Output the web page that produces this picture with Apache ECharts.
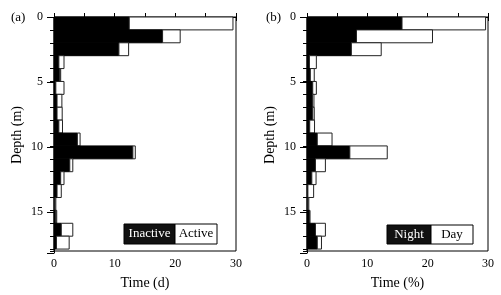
<!DOCTYPE html>
<html>
<head>
<meta charset="utf-8">
<script src="https://cdn.jsdelivr.net/npm/echarts@6/dist/echarts.min.js"></script>
<style>
  html, body { margin: 0; padding: 0; background: #fff; }
  #chart { width: 501px; height: 295px; }
</style>
</head>
<body>
<div id="chart"></div>
<script>
// depth bins (top of each 1 m bin)
const depths = [0, 1, 2, 3, 4, 5, 6, 7, 8, 9, 10, 11, 12, 13, 14, 15, 16, 17];
// (a) time in days
const inactive = [12.4, 17.9, 10.7, 0.8, 0.95, 0.3, 0.5, 0.5, 0.8, 3.85, 13.0, 2.6, 1.1, 0.5, 0.15, 0.3, 1.2, 0.4];
const active = [17.1, 2.9, 1.6, 0.85, 0.15, 1.35, 0.8, 0.85, 0.6, 0.45, 0.4, 0.5, 0.55, 0.7, 0.15, 0.15, 1.9, 2.1];
// (b) time in percent
const night = [15.75, 8.2, 7.35, 0.4, 0.55, 0.95, 0.9, 0.95, 0.45, 1.7, 7.1, 1.4, 0.8, 0.15, 0.15, 0.4, 1.4, 1.7];
const day = [13.85, 12.6, 4.95, 1.15, 0.65, 0.6, 0.25, 0.25, 0.8, 2.45, 6.2, 1.65, 0.7, 0.95, 0.15, 0.1, 1.65, 0.7];
const depthTicks = [0, 5, 10, 15];
const timeTicks = [0, 10, 20, 30];

const FONT = "'Liberation Serif', 'Times New Roman', serif";
const depthMax = 18.15;

function renderStack (params, api) {
    const d = api.value(0);
    const a = api.value(1);
    const b = api.value(2);
    const p0 = api.coord([0, d]);
    const p1 = api.coord([a, d + 1]);
    const p2 = api.coord([a + b, d + 1]);
    return {
        type: 'group',
        children: [
            {
                type: 'rect',
                shape: {x: p0[0], y: p0[1], width: p1[0] - p0[0], height: p1[1] - p0[1]},
                style: {fill: '#000', stroke: '#000', lineWidth: 1}
            },
            {
                type: 'rect',
                shape: {x: p1[0], y: p0[1], width: p2[0] - p1[0], height: p1[1] - p0[1]},
                style: {fill: '#fff', stroke: '#222', lineWidth: 1}
            }
        ]
    };
}

const grids = [
    {left: 54, top: 17, width: 182, height: 236},
    {left: 307, top: 17, width: 181, height: 236}
];

const gridList = [];
const xAxes = [];
const yAxes = [];
const series = [];
const names = ['Time (d)', 'Time (%)'];
const stacks = [[inactive, active], [night, day]];

grids.forEach(function (g, i) {
    // grid for bars + minor depth ticks + bottom axis
    gridList.push({left: g.left, top: g.top, width: g.width, height: g.height,
        show: true, borderColor: '#000', borderWidth: 1, backgroundColor: 'transparent'});
    // overlay grid for major ticks / labels + top axis
    gridList.push({left: g.left, top: g.top, width: g.width, height: g.height, show: false});

    xAxes.push({
        gridIndex: 2 * i, type: 'value', position: 'bottom', min: 0, max: 30, interval: 5,
        name: names[i], nameLocation: 'middle', nameGap: 25,
        nameTextStyle: {fontFamily: FONT, fontSize: 14, color: '#000'},
        axisLine: {lineStyle: {color: '#000', width: 1}},
        axisTick: {length: 4, lineStyle: {color: '#000'}},
        axisLabel: {fontFamily: FONT, fontSize: 12, color: '#000', margin: 7,
            formatter: function (v) { return timeTicks.indexOf(v) >= 0 ? String(v) : ''; }},
        splitLine: {show: false}
    });
    xAxes.push({
        gridIndex: 2 * i + 1, type: 'value', position: 'top', min: 0, max: 30, interval: 5,
        axisLine: {lineStyle: {color: '#000', width: 1}},
        axisTick: {length: 4, lineStyle: {color: '#000'}},
        axisLabel: {show: false},
        splitLine: {show: false}
    });
    yAxes.push({
        gridIndex: 2 * i, type: 'value', inverse: true, min: 0, max: depthMax, interval: 1,
        axisLine: {show: false},
        axisTick: {length: 4, lineStyle: {color: '#000'}},
        axisLabel: {show: false},
        splitLine: {show: false}
    });
    yAxes.push({
        gridIndex: 2 * i + 1, type: 'value', inverse: true, min: 0, max: depthMax, interval: 5,
        name: 'Depth (m)', nameLocation: 'middle', nameGap: 30,
        nameTextStyle: {fontFamily: FONT, fontSize: 14, color: '#000'},
        axisLine: {show: true, lineStyle: {color: '#000', width: 1}},
        axisTick: {length: 7, lineStyle: {color: '#000'}},
        axisLabel: {fontFamily: FONT, fontSize: 12, color: '#000', margin: 11,
            formatter: function (v) { return depthTicks.indexOf(v) >= 0 ? String(v) : ''; }},
        splitLine: {show: false}
    });

    series.push({
        type: 'custom',
        xAxisIndex: 2 * i,
        yAxisIndex: 2 * i,
        renderItem: renderStack,
        data: depths.map(function (d, k) { return [d, stacks[i][0][k], stacks[i][1][k]]; })
    });
});

function legendBox (x, y, w1, w2, h, t1, t2) {
    return [
        {type: 'rect', shape: {x: x, y: y, width: w1, height: h}, style: {fill: '#111', stroke: '#000'}},
        {type: 'rect', shape: {x: x + w1, y: y, width: w2, height: h}, style: {fill: '#fff', stroke: '#000'}},
        {type: 'text', x: x + w1 / 2, y: y + h / 2, style: {text: t1, fill: '#fff', font: '13px ' + FONT, align: 'center', verticalAlign: 'middle'}},
        {type: 'text', x: x + w1 + w2 / 2, y: y + h / 2, style: {text: t2, fill: '#000', font: '13px ' + FONT, align: 'center', verticalAlign: 'middle'}}
    ];
}

const option = {
    animation: false,
    backgroundColor: '#fff',
    grid: gridList,
    xAxis: xAxes,
    yAxis: yAxes,
    series: series,
    graphic: [
        {type: 'text', left: 11, top: 11, style: {text: '(a)', fill: '#000', font: '13px ' + FONT}},
        {type: 'text', left: 266, top: 11, style: {text: '(b)', fill: '#000', font: '13px ' + FONT}}
    ].concat(legendBox(124, 224, 51, 42, 20, 'Inactive', 'Active'))
     .concat(legendBox(387, 225, 44, 42, 19, 'Night', 'Day'))
};

const chart = echarts.init(document.getElementById('chart'));
chart.setOption(option);

window.addEventListener('resize', function () {
    chart.resize();
});
</script>
</body>
</html>
